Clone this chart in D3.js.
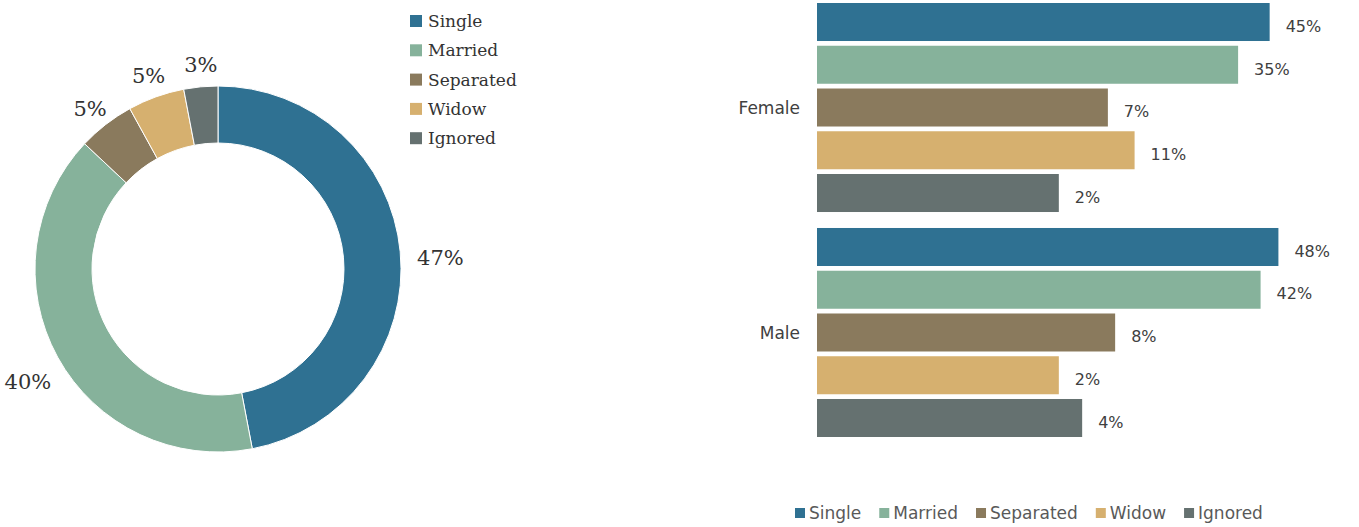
<!DOCTYPE html>
<html>
<head>
<meta charset="utf-8">
<script src="https://cdn.jsdelivr.net/npm/d3@7"></script>
<style>
  html, body { margin: 0; padding: 0; background: #fff; }
  svg { display: block; }
</style>
</head>
<body>
<svg id="chart" width="1359" height="527"></svg>
<script>
// Marital status, overall and by sex
const statuses = ["Single", "Married", "Separated", "Widow", "Ignored"];
const overallValues = [47, 40, 5, 5, 3];

const sexes = ["Female", "Male"];
const femaleValues = [45, 35, 7, 11, 2];
const maleValues = [48, 42, 8, 2, 4];

const palette = ["#2f7192", "#86b29b", "#8a7a5d", "#d6b06f", "#657170"];

const svg = d3.select("#chart");
const color = d3.scaleOrdinal().domain(statuses).range(palette);

// ---------- Donut ----------
const cx = 218, cy = 269, outerR = 183, innerR = 126;
const pie = d3.pie().sort(null).value(d => d.value);
const arc = d3.arc().innerRadius(innerR).outerRadius(outerR);
const slices = pie(statuses.map((s, i) => ({ status: s, value: overallValues[i] })));

const donut = svg.append("g").attr("transform", `translate(${cx},${cy})`);
donut.selectAll("path")
  .data(slices)
  .join("path")
  .attr("d", arc)
  .attr("fill", d => color(d.data.status))
  .attr("stroke", "#fff")
  .attr("stroke-width", 1);

// labels placed just outside the ring, box edge touching the gap radius
const labelGap = outerR + 14;
donut.selectAll("text.pct")
  .data(slices)
  .join("text")
  .attr("class", "pct")
  .attr("font-family", "DejaVu Serif")
  .attr("font-size", 21)
  .attr("fill", "#333")
  .attr("text-anchor", "middle")
  .text(d => d.data.value + "%")
  .each(function(d) {
    const a = (d.startAngle + d.endAngle) / 2;
    const dx = Math.sin(a), dy = -Math.cos(a);
    const w = this.getComputedTextLength();
    const h = 36;
    const x = dx * labelGap + dx * w / 2 + 3;
    const y = dy * labelGap + dy * h / 2 + 9;
    d3.select(this).attr("x", x).attr("y", y + 7.6);
  });

// donut legend
const leg1 = svg.append("g").attr("transform", "translate(410,21)");
const leg1Items = leg1.selectAll("g")
  .data(statuses)
  .join("g")
  .attr("transform", (d, i) => `translate(0,${i * 29.3})`);
leg1Items.append("rect")
  .attr("x", 0).attr("y", -6)
  .attr("width", 12).attr("height", 12)
  .attr("fill", d => color(d));
leg1Items.append("text")
  .attr("x", 18).attr("y", 6)
  .attr("font-family", "DejaVu Serif")
  .attr("font-size", 17)
  .attr("fill", "#333")
  .text(d => d);

// ---------- Grouped horizontal bars ----------
const rows = sexes.map((s, gi) => ({
  sex: s,
  values: statuses.map((st, i) => ({
    status: st,
    value: (gi === 0 ? femaleValues : maleValues)[i]
  }))
}));

const yGroup = d3.scaleBand().domain(sexes).range([3, 437]).paddingInner(0.071);
const yBar = d3.scaleBand().domain(statuses).range([0, yGroup.bandwidth()]).paddingInner(0.111);
const x = d3.scaleSqrt().domain([-21.7, 50]).range([817, 1284.1]);
const x0 = x(x.domain()[0]);

const groupsG = svg.selectAll("g.sex")
  .data(rows)
  .join("g")
  .attr("class", "sex")
  .attr("transform", d => `translate(0,${yGroup(d.sex)})`);

groupsG.selectAll("rect")
  .data(d => d.values)
  .join("rect")
  .attr("x", x0)
  .attr("y", d => yBar(d.status))
  .attr("width", d => x(d.value) - x0)
  .attr("height", yBar.bandwidth())
  .attr("fill", d => color(d.status));

groupsG.selectAll("text.val")
  .data(d => d.values)
  .join("text")
  .attr("class", "val")
  .attr("x", d => x(d.value) + 16)
  .attr("y", d => yBar(d.status) + yBar.bandwidth() / 2 + 4)
  .attr("dy", "0.36em")
  .attr("font-family", "DejaVu Sans")
  .attr("font-size", 16)
  .attr("fill", "#404040")
  .text(d => d.value + "%");

groupsG.append("text")
  .attr("x", 800)
  .attr("y", yGroup.bandwidth() / 2)
  .attr("dy", "0.36em")
  .attr("text-anchor", "end")
  .attr("font-family", "DejaVu Sans")
  .attr("font-size", 17)
  .attr("fill", "#404040")
  .text(d => d.sex);

// bottom legend
const leg2 = svg.append("g").attr("transform", "translate(795,513)");
let lx = 0;
statuses.forEach(s => {
  const item = leg2.append("g").attr("transform", `translate(${lx},0)`);
  item.append("rect")
    .attr("x", 0).attr("y", -5)
    .attr("width", 10).attr("height", 10)
    .attr("fill", color(s));
  const t = item.append("text")
    .attr("x", 14).attr("y", 6)
    .attr("font-family", "DejaVu Sans")
    .attr("font-size", 17)
    .attr("fill", "#595959")
    .text(s);
  lx += 14 + t.node().getComputedTextLength() + 18;
});
</script>
</body>
</html>
